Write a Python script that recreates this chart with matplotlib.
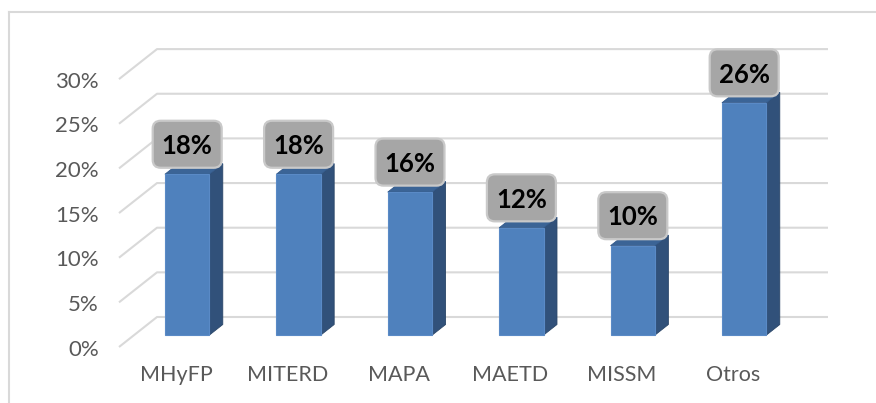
import matplotlib
matplotlib.use('Agg')
import matplotlib.pyplot as plt
from matplotlib.patches import Polygon, FancyBboxPatch
from matplotlib.lines import Line2D

categories = ['MHyFP', 'MITERD', 'MAPA', 'MAETD', 'MISSM', 'Otros']
values = [18, 18, 16, 12, 10, 26]
value_labels = ['18%', '18%', '16%', '12%', '10%', '26%']
yticks = [0, 5, 10, 15, 20, 25, 30]
ytick_labels = ['0%', '5%', '10%', '15%', '20%', '25%', '30%']

plt.rcParams['font.family'] = ['Lato', 'DejaVu Sans']

W, H = 876, 403
fig = plt.figure(figsize=(W / 100, H / 100), dpi=100)
ax = fig.add_axes([0, 0, 1, 1])

px_cat = 111.4   # pixels per category
px_pct = 8.93    # pixels per percent
x0_px, y0_px = 172, 347
ax.set_xlim(-x0_px / px_cat, (W - x0_px) / px_cat)
ax.set_ylim((y0_px - H) / px_pct, y0_px / px_pct)
ax.axis('off')

DX = 38 / px_cat
DY = 30 / px_pct


def proj(x, y, d):
    return (x + d * DX, y + d * DY)


grid_c = '#D9D9D9'
xl = (119 - x0_px) / px_cat
xr = (828 - x0_px) / px_cat - DX

# gridlines (front-left diagonal + back wall)
for v in yticks:
    p0 = proj(xl, v, 0)
    p1 = proj(xl, v, 1)
    p2 = proj(xr, v, 1)
    ax.plot([p0[0], p1[0], p2[0]], [p0[1], p1[1], p2[1]], color=grid_c,
            lw=1.5, zorder=1, solid_capstyle='butt')

# y tick labels
for v, lab in zip(yticks, ytick_labels):
    ax.text(xl - 20 / px_cat, v - 0.3, lab, ha='right', va='center',
            fontsize=16, color='#595959', zorder=5)

# bars
bw = 0.40
d0, d1 = 0.40, 0.75
front_c = '#4F81BD'
side_c = '#31517A'
top_c = '#3B6496'
for i, v in enumerate(values):
    xa, xb = i - bw / 2, i + bw / 2
    front = [proj(xa, 0, d0), proj(xb, 0, d0), proj(xb, v, d0), proj(xa, v, d0)]
    side = [proj(xb, 0, d0), proj(xb, 0, d1), proj(xb, v, d1), proj(xb, v, d0)]
    top = [proj(xa, v, d0), proj(xb, v, d0), proj(xb, v, d1), proj(xa, v, d1)]
    ax.add_patch(Polygon(side, closed=True, facecolor=side_c, edgecolor='#2A4668', lw=0.6, zorder=3))
    ax.add_patch(Polygon(top, closed=True, facecolor=top_c, edgecolor='#33598A', lw=0.6, zorder=3))
    ax.add_patch(Polygon(front, closed=True, facecolor=front_c, edgecolor='#5A8AC6', lw=0.8, zorder=4))

# data label boxes
bx_w = 69 / px_cat
bx_h = 47 / px_pct
r = 8 / px_cat
for i, (v, lab) in enumerate(zip(values, value_labels)):
    cx, cy = proj(i, v, d0)
    cy += 30 / px_pct
    box = FancyBboxPatch((cx - bx_w / 2, cy - bx_h / 2), bx_w, bx_h,
                         boxstyle=f'round,pad=0,rounding_size={r}',
                         mutation_aspect=px_cat / px_pct,
                         facecolor='#A6A6A6', edgecolor='#C9C9C9', lw=1.6, zorder=6)
    ax.add_patch(box)
    ax.text(cx, cy - 0.2, lab, ha='center', va='center', fontsize=18.5,
            fontweight='bold', color='#000000', zorder=7)

# category labels
for i, c in enumerate(categories):
    ax.text(i + 4 / px_cat, (y0_px - 375) / px_pct, c, ha='center', va='center',
            fontsize=15.5, color='#595959', zorder=5)

# outer chart frame (left & top edges)
fig.add_artist(Line2D([8.5 / W, 8.5 / W], [0, 1 - 12 / H], color=grid_c, lw=1.5,
                      transform=fig.transFigure))
fig.add_artist(Line2D([8.5 / W, 1], [1 - 12 / H, 1 - 12 / H], color=grid_c, lw=1.5,
                      transform=fig.transFigure))

fig.savefig('out.png', dpi=100, facecolor='white')
